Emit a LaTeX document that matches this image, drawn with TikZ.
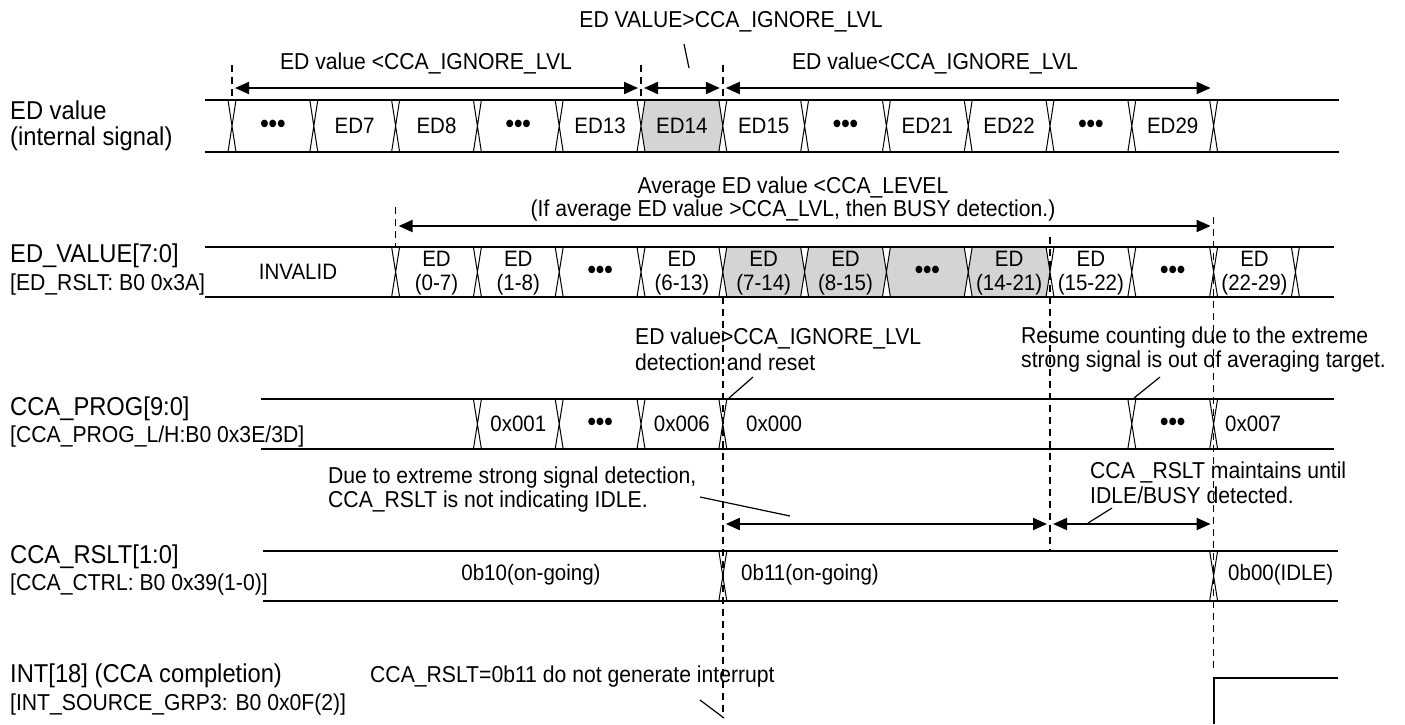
\documentclass[tikz,border=0pt]{standalone}
\usepackage{fontspec}
\setmainfont[FakeStretch=0.92]{Liberation Sans}
\usetikzlibrary{arrows.meta}
\newcommand\busx[3]{\draw[xl] ({#1-4},#2) -- ({#1+4},#3) ({#1+4},#2) -- ({#1-4},#3);}
\newcommand\shseg[4]{\fill[shade] ({#1+4},#3) -- ({#2-4},#3) -- (#2,{(#3+#4)/2}) -- ({#2-4},#4) -- ({#1+4},#4) -- (#1,{(#3+#4)/2}) -- cycle;}
\begin{document}
\begin{tikzpicture}[x=1pt,y=-1pt,
  sig/.style={line width=1.8pt},
  xl/.style={line width=1pt},
  dsh/.style={line width=1.6pt, dash pattern=on 7pt off 5pt},
  dim/.style={line width=2pt, {Triangle[length=14pt,width=12pt]}-{Triangle[length=14pt,width=12pt]}, shorten <=3pt, shorten >=3pt},
  ldr/.style={line width=1.2pt},
  ann/.style={font=\fontsize{23}{27}\selectfont, inner sep=0pt},
  cell/.style={font=\fontsize{22.3}{26}\selectfont, inner sep=0pt},
  dots/.style={font=\fontsize{26}{28}\selectfont\bfseries, inner sep=0pt},
  lab/.style={font=\fontsize{25.8}{30}\selectfont, anchor=west, inner sep=0pt},
  sublab/.style={font=\fontsize{23}{27}\selectfont, anchor=west, inner sep=0pt},
  shade/.style={fill=black!17}]
\useasboundingbox (0,0) rectangle (1405,724);

% ---------- Row 1: ED value ----------
\shseg{641}{722.8}{100}{152}
\draw[sig] (205,100) -- (1339,100) (205,152) -- (1339,152);
\foreach \t in {232,313.8,395.6,477.4,559.2,641,722.8,804.6,886.4,968.2,1050,1131.8,1213.6} {\busx{\t}{100}{152}}
\node[dots] (r1a) at (272.9,126) {•••};
\node[cell] (r1b) at (354.7,126) {ED7};
\node[cell] (r1c) at (436.5,126) {ED8};
\node[dots] (r1d) at (518.3,126) {•••};
\node[cell] (r1e) at (600.1,126) {ED13};
\node[cell] (r1f) at (681.9,126) {ED14};
\node[cell] (r1g) at (763.7,126) {ED15};
\node[dots] (r1h) at (845.5,126) {•••};
\node[cell] (r1i) at (927.3,126) {ED21};
\node[cell] (r1j) at (1009.1,126) {ED22};
\node[dots] (r1k) at (1090.9,126) {•••};
\node[cell] (r1l) at (1172.7,126) {ED29};
\node[lab] (l1a) at (10,110) {ED value};
\node[lab] (l1b) at (10,139) {(internal signal)};

% top annotations
\draw[dsh] (232,65) -- (232,100);
\draw[dsh] (641,65) -- (641,100);
\draw[dsh] (722.8,65) -- (722.8,100);
\coordinate (a1) at (232,88); \coordinate (a2) at (641,88);
\coordinate (a3) at (722.8,88); \coordinate (a4) at (1213.6,88);
\draw[dim] (a1) -- (a2);
\draw[dim] (a2) -- (a3);
\draw[dim] (a3) -- (a4);
\node[ann] (t1) at (731,22) {ED VALUE>CCA\_IGNORE\_LVL};
\node[ann] (t2) at (426,63) {ED value <CCA\_IGNORE\_LVL};
\node[ann] (t3) at (935,63) {ED value<CCA\_IGNORE\_LVL};
\coordinate (p1) at (684,44); \coordinate (p2) at (689,68);
\draw[ldr] (p1) -- (p2);

% ---------- Row 2: ED_VALUE ----------
\foreach \a/\b in {722.8/804.6,804.6/886.4,886.4/968.2,968.2/1050} {\shseg{\a}{\b}{247}{297}}
\draw[sig] (205,247) -- (1334,247) (205,297) -- (1334,297);
\foreach \t in {395.6,477.4,559.2,641,722.8,804.6,886.4,968.2,1050,1131.8,1213.6,1295.4} {\busx{\t}{247}{297}}
\node[cell] (r2a) at (298,272) {INVALID};
\foreach \x/\r/\n in {436.5/(0-7)/b,518.3/(1-8)/c,681.9/(6-13)/e,763.7/(7-14)/f,845.5/(8-15)/g,1009.1/(14-21)/i,1090.9/(15-22)/j,1254.5/(22-29)/l} {
  \node[cell] (r2\n u) at (\x,259) {ED};
  \node[cell] (r2\n d) at (\x,285) {\r};
}
\node[dots] (r2d) at (600.1,272) {•••};
\node[dots] (r2h) at (927.3,272) {•••};
\node[dots] (r2k) at (1172.7,272) {•••};
\node[lab] (l2a) at (10,256) {ED\_VALUE[7:0]};
\node[sublab] (l2b) at (10,285) {[ED\_RSLT: B0 0x3A]};

\draw[dsh] (395.6,207) -- (395.6,247);
\draw[dsh] (1213.6,217) -- (1213.6,672);
\draw[dsh] (1050,237) -- (1050,551);
\draw[dsh] (722.8,297) -- (722.8,718);
\coordinate (b1) at (395.6,226); \coordinate (b2) at (1213.6,226);
\draw[dim] (b1) -- (b2);
\node[ann] (t4) at (793,188) {Average ED value <CCA\_LEVEL};
\node[ann] (t5) at (793,211) {(If average ED value >CCA\_LVL, then BUSY detection.)};

% ---------- Row 3: CCA_PROG ----------
\draw[sig] (261,399) -- (1334,399) (261,449) -- (1334,449);
\foreach \t in {477.4,559.2,641,722.8,1131.8,1213.6} {\busx{\t}{399}{449}}
\node[cell] (r3a) at (518.3,424) {0x001};
\node[dots] (r3b) at (600.1,424) {•••};
\node[cell] (r3c) at (681.9,424) {0x006};
\node[cell,anchor=west] (r3d) at (746,424) {0x000};
\node[dots] (r3e) at (1172.7,424) {•••};
\node[cell,anchor=west] (r3f) at (1225,424) {0x007};
\node[lab] (l3a) at (10,409) {CCA\_PROG[9:0]};
\node[sublab] (l3b) at (10,437) {[CCA\_PROG\_L/H:B0 0x3E/3D]};

\node[ann,anchor=west] (t6) at (635,338) {ED value>CCA\_IGNORE\_LVL};
\node[ann,anchor=west] (t7) at (635,362) {detection and reset};
\node[ann,anchor=west] (t8) at (1021,338) {Resume counting due to the extreme};
\node[ann,anchor=west] (t9) at (1021,362) {strong signal is out of averaging target.};
\coordinate (c1) at (753,377); \coordinate (c2) at (729,398);
\draw[ldr] (c1) -- (c2);
\coordinate (c3) at (1160,377); \coordinate (c4) at (1134,398);
\draw[ldr] (c3) -- (c4);

\node[ann,anchor=west] (t10) at (328,478) {Due to extreme strong signal detection,};
\node[ann,anchor=west] (t11) at (328,502) {CCA\_RSLT is not indicating IDLE.};
\node[ann,anchor=west] (t12) at (1090,472) {CCA \_RSLT maintains until};
\node[ann,anchor=west] (t13) at (1090,495) {IDLE/BUSY detected.};
\coordinate (d1) at (700,497); \coordinate (d2) at (790,516);
\draw[ldr] (d1) -- (d2);
\coordinate (d3) at (1112,508); \coordinate (d4) at (1088,523);
\draw[ldr] (d3) -- (d4);
\coordinate (e1) at (722.8,524); \coordinate (e2) at (1050,524); \coordinate (e3) at (1213.6,524);
\draw[dim] (e1) -- (e2);
\draw[dim] (e2) -- (e3);

% ---------- Row 4: CCA_RSLT ----------
\draw[sig] (263,551) -- (1338,551) (263,601) -- (1338,601);
\foreach \t in {722.8,1213.6} {\busx{\t}{551}{601}}
\node[cell] (r4a) at (531,575) {0b10(on-going)};
\node[cell,anchor=west] (r4b) at (741,575) {0b11(on-going)};
\node[cell,anchor=west] (r4c) at (1228,575) {0b00(IDLE)};
\node[lab] (l4a) at (10,557) {CCA\_RSLT[1:0]};
\node[sublab] (l4b) at (10,585) {[CCA\_CTRL: B0 0x39(1-0)]};

% ---------- Row 5: INT ----------
\coordinate (i1) at (1214,724); \coordinate (i2) at (1214,678); \coordinate (i3) at (1338,678);
\draw[sig] (i1) -- (i2) -- (i3);
\node[lab] (l5a) at (10,676) {INT[18] (CCA completion)};
\node[sublab] (l5b) at (10,705) {[INT\_SOURCE\_GRP3: B0 0x0F(2)]};
\node[ann,anchor=west] (t14) at (370,677) {CCA\_RSLT=0b11 do not generate interrupt};
\coordinate (f1) at (700,700); \coordinate (f2) at (724,718);
\draw[ldr] (f1) -- (f2);
\end{tikzpicture}
\end{document}
